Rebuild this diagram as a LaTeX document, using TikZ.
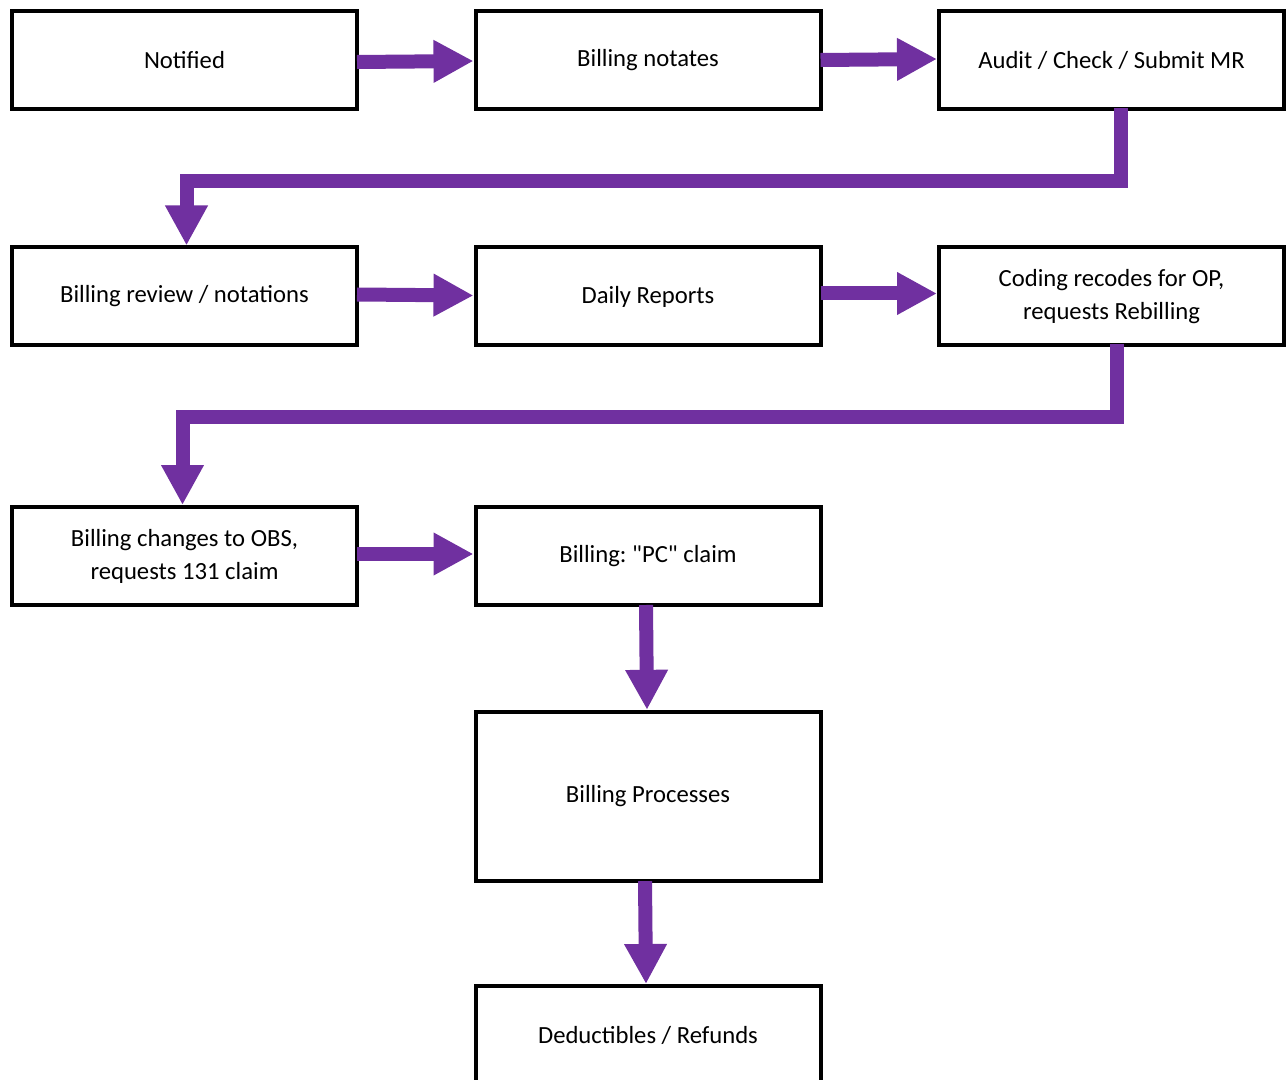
\documentclass[tikz,border=0pt]{standalone}
\usepackage{fontspec}
\setmainfont{Carlito}
\usetikzlibrary{arrows.meta,calc}
\definecolor{arrpurple}{HTML}{7030A0}
\newcommand{\sq}{\XeTeXglyph\XeTeXcharglyph"22\relax}
\begin{document}
\begin{tikzpicture}[x=0.75pt,y=-0.75pt,
  box/.style={draw=black,line width=3pt,fill=white,minimum width=258.75pt,minimum height=73.5pt,
    inner sep=0pt,align=center,font=\fontsize{18.5}{24.75}\selectfont\frenchspacing},
  arr/.style={draw=arrpurple,line width=10.5pt,line join=miter,
    -{Triangle[width=30pt,length=30pt]},color=arrpurple}]
\useasboundingbox (0,0) rectangle (1288,1080);
\clip (0,0) rectangle (1288,1080);
\node[box] (notified) at (184.5,60) {Notified};
\node[box] (notates) at (648,60) {Billing notates};
\node[box] (audit) at (1111.5,60) {Audit / Check / Submit MR};
\node[box] (review) at (184.5,296.5) {Billing review / notations};
\node[box] (daily) at (648,296.5) {Daily Reports};
\node[box] (coding) at (1111.5,296.5) {Coding recodes for OP,\\requests Rebilling};
\node[box] (changes) at (184.5,556) {Billing changes to OBS,\\requests 131 claim};
\node[box] (pc) at (648,556) {Billing: \sq PC\sq{} claim};
\node[box,minimum height=127pt] (proc) at (648,796.5) {Billing Processes};
\node[box] (ded) at (648,1035) {Deductibles / Refunds};
% connectors
\draw[arr] ($(notified.east)+(-2,2)$) -- ($(notates.west)+(0,1)$);
\draw[arr] ($(notates.east)+(-2,0)$) -- ($(audit.west)+(0,-1)$);
\draw[arr] ($(audit.south)+(9.5,-3)$) -- ($(audit.south)+(9.5,70)$) -| ($(review.north)+(2,0)$);
\draw[arr] ($(review.east)+(-2,-2)$) -- ($(daily.west)+(0,-1)$);
\draw[arr] ($(daily.east)+(-2,-3)$) -- ($(coding.west)+(0,-3)$);
\draw[arr] ($(coding.south)+(5.5,-3)$) -- ($(coding.south)+(5.5,69)$) -| ($(changes.north)+(-2,0)$);
\draw[arr] ($(changes.east)+(-2,-2)$) -- ($(pc.west)+(0,-2)$);
\draw[arr] ($(pc.south)+(-2,-2)$) -- ($(proc.north)+(-1,0)$);
\draw[arr] ($(proc.south)+(-3,-2)$) -- ($(ded.north)+(-2,0)$);
\end{tikzpicture}
\end{document}
